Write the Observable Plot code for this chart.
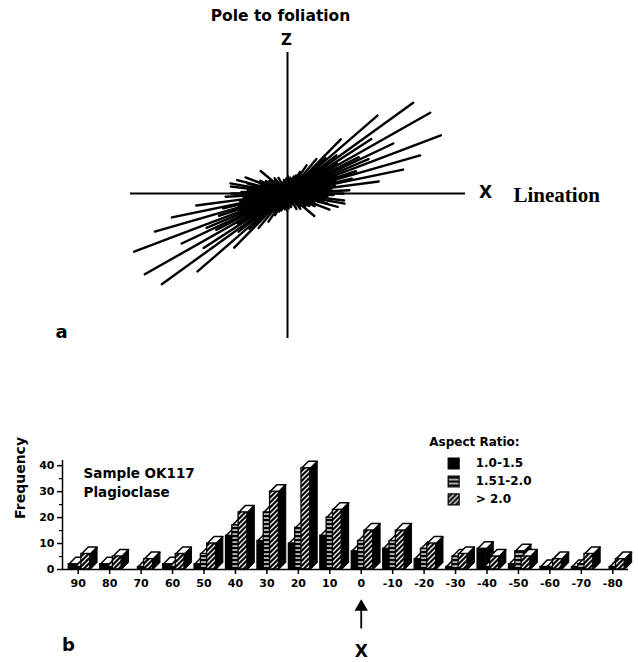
<!DOCTYPE html>
<html><head><meta charset="utf-8">
<script src="https://cdn.jsdelivr.net/npm/d3@7"></script>
<script src="https://cdn.jsdelivr.net/npm/@observablehq/plot@0.6"></script>
<style>
body{margin:0;background:#fff}
#wrap{position:relative;width:638px;height:662px;background:#fff}
#wrap svg{display:block}
</style>
</head><body>
<svg width="0" height="0" style="position:absolute">
<defs>
<pattern id="hstripe" patternUnits="userSpaceOnUse" width="6" height="4">
<rect width="6" height="4" fill="#000"/><rect x="0" y="1.4" width="6" height="1.3" fill="#fff"/>
</pattern>
<pattern id="diag" patternUnits="userSpaceOnUse" width="5" height="5">
<rect width="5" height="5" fill="#000"/>
<path d="M-1.25,1.25 l2.5,-2.5 M0,5 l5,-5 M3.75,6.25 l2.5,-2.5" stroke="#fff" stroke-width="1.3"/>
</pattern>
</defs></svg>
<div id="wrap"></div>
<script>
// ---- Panel a: grain orientations (angle from X in degrees, half-length) ----
const grainAngle = [35.8,40.9,29.5,20.8,25.3,45.5,16,11.7,7.5,33,27,38,23,18,13,3,50,56,43,31,20,9,5,0,-2,
  -7,-10,-15,-14,-40,-21,-5,-25,-3,-30,-12,-18,-8,-35,-45,
  60,70,80,88,-85,-75,-60,-50,65,75,15,25,35,45,10,2,30,50,20,40,84,-88,55,-65,12,28,-22,
  8,-4,4,18,-16,14,6,-1];
const grainHalfLength = [155,119,164,164,117,76,138,118,92,100,80,62,88,72,66,62,45,34,52,58,52,48,44,56,46,
  57,58,52,41,35,45,40,30,30,25,36,28,25,22,18,
  25,18,16,17,15,14,18,20,20,15,35,40,30,28,30,35,20,22,25,40,12,11,14,12,22,28,20,
  38,34,30,44,24,50,26,40];

// ---- Panel b: frequency by angle bin and aspect ratio ----
const angleBins = [90,80,70,60,50,40,30,20,10,0,-10,-20,-30,-40,-50,-60,-70,-80];
const freqLow  = [2,2,0,2,2,13,11,10,13,7,8,4,1,8,2,1,1,0];      // 1.0-1.5
const freqMid  = [1,1,1,1,6,17,22,16,20,11,11,8,5,1,7,1,2,1];    // 1.51-2.0
const freqHigh = [6,5,4,6,10,22,30,39,23,15,15,10,6,5,5,4,6,4];  // > 2.0
const seriesNames = ["1.0-1.5","1.51-2.0","> 2.0"];
const yTicks = [0,10,20,30,40];
const yMinorTicks = [5,15,25,35];

const wrap = document.getElementById("wrap");

// ---------- Panel a ----------
const grains = grainAngle.map((a,i)=>({a, L: grainHalfLength[i]}));
const rad = d => d.a*Math.PI/180;
const xAxisExtent = [-157, 178], zAxisExtent = [-145, 141];
const serif = "Liberation Serif";
const sans = "DejaVu Sans";
const topPlot = Plot.plot({
  width: 638, height: 400, margin: 0,
  x: {domain: [-287, 351], axis: null},
  y: {domain: [-207, 193], axis: null},
  style: {background: "white", color: "black"},
  marks: [
    Plot.ruleY([0], {x1: xAxisExtent[0], x2: xAxisExtent[1], stroke: "black", strokeWidth: 2}),
    Plot.ruleX([0], {y1: zAxisExtent[0], y2: zAxisExtent[1], stroke: "black", strokeWidth: 2}),
    Plot.link(grains, {
      x1: d => -d.L*Math.cos(rad(d)), y1: d => -d.L*Math.sin(rad(d)),
      x2: d => d.L*Math.cos(rad(d)),  y2: d => d.L*Math.sin(rad(d)),
      stroke: "black", strokeWidth: 2.4, strokeLinecap: "round"
    }),
    Plot.text(["Pole to foliation"], {x: -7, y: 177, fontFamily: sans, fontWeight: "bold", fontSize: 15.5, lineAnchor: "middle"}),
    Plot.text(["Z"], {x: -1, y: 153, fontFamily: sans, fontWeight: "bold", fontSize: 15, lineAnchor: "middle"}),
    Plot.text(["X"], {x: 198, y: 1, fontFamily: sans, fontWeight: "bold", fontSize: 17, lineAnchor: "middle"}),
    Plot.text(["Lineation"], {x: 226, y: -2, textAnchor: "start", fontFamily: serif, fontWeight: "bold", fontSize: 21, lineAnchor: "middle"}),
    Plot.text(["a"], {x: -226, y: -139, fontFamily: sans, fontWeight: "bold", fontSize: 18, lineAnchor: "middle"})
  ]
});
wrap.appendChild(topPlot);

// ---------- Panel b ----------
const barWidth = 2.8, barStep = 2.0, barStart = -3.0, depthX = 2.2, depthY = 2.7;
const seriesFreq = [freqLow, freqMid, freqHigh];
const seriesFill = ["black", "url(#hstripe)", "url(#diag)"];
const barMarks = [];
seriesFreq.forEach((vals, k) => {
  const r0 = barStart + k*barStep;
  const bars = angleBins.map((b,i)=>({b, v: vals[i], xL: b - r0, xR: b - r0 - barWidth})).filter(d => d.v > 0);
  const side = bars.flatMap(d => [[d.xR,0],[d.xR-depthX,depthY],[d.xR-depthX,d.v+depthY],[d.xR,d.v],[d.xR,0]]
    .map(([x,y]) => ({x, y, id: d.b})));
  const cap = bars.flatMap(d => [[d.xL,d.v],[d.xR,d.v],[d.xR-depthX,d.v+depthY],[d.xL-depthX,d.v+depthY],[d.xL,d.v]]
    .map(([x,y]) => ({x, y, id: d.b})));
  barMarks.push(Plot.line(side, {x: "x", y: "y", z: "id", fill: "black", stroke: "black", strokeWidth: 1}));
  barMarks.push(Plot.line(cap, {x: "x", y: "y", z: "id", fill: "white", stroke: "black", strokeWidth: 1.5}));
  barMarks.push(Plot.rect(bars, {x1: "xL", x2: "xR", y1: 0, y2: "v", fill: seriesFill[k], stroke: "black", strokeWidth: 1.3}));
});

const legendX = -29.4, legendTextX = -36.4, legendY = [40.85, 33.9, 27.0];
const bottomPlot = Plot.plot({
  width: 638, height: 262,
  marginLeft: 62, marginRight: 10, marginTop: 60, marginBottom: 93,
  x: {domain: [95, -85]},
  y: {domain: [0, 42]},
  style: {background: "white", color: "black", fontFamily: sans, fontSize: "11px", fontWeight: "bold"},
  marks: [
    Plot.axisX(angleBins, {tickSize: 5, tickPadding: 5, tickFormat: d => String(d), label: null, fontSize: 11, strokeWidth: 1.5}),
    Plot.axisY(yTicks, {tickSize: 5, tickPadding: 3, label: null, fontSize: 11, strokeWidth: 1.5}),
    Plot.axisY(yMinorTicks, {tickSize: 3, text: null, label: null, strokeWidth: 1.2}),
    Plot.ruleX([95], {y1: 0, y2: 42, stroke: "black", strokeWidth: 1.5}),
    ...barMarks,
    Plot.ruleY([0], {stroke: "black", strokeWidth: 1.6}),
    Plot.text(["Frequency"], {frameAnchor: "left", dx: -42, y: 19.5, rotate: -90, fontSize: 14, fontWeight: "bold", lineAnchor: "middle"}),
    Plot.text(["Sample OK117"], {x: 88.3, y: 37, textAnchor: "start", fontSize: 13.5, fontWeight: "bold", lineAnchor: "middle"}),
    Plot.text(["Plagioclase"], {x: 88.3, y: 29.7, textAnchor: "start", fontSize: 13.5, fontWeight: "bold", lineAnchor: "middle"}),
    Plot.text(["Aspect Ratio:"], {x: -36, y: 48.9, fontSize: 12, fontWeight: "bold", lineAnchor: "middle"}),
    ...seriesNames.map((name, i) => Plot.dot([name], {x: legendX, y: legendY[i], symbol: "square", r: 6.2, fill: seriesFill[i], stroke: "black", strokeWidth: 1.2})),
    Plot.text(seriesNames, {x: legendTextX, y: (d,i) => legendY[i], textAnchor: "start", fontSize: 12, fontWeight: "bold", lineAnchor: "middle"}),
    Plot.link([0], {x1: 0, x2: 0, y1: -22.7, y2: -15.5, stroke: "black", strokeWidth: 1.8}),
    Plot.dot([0], {x: 0, y: -14.4, symbol: "triangle", r: 4, fill: "black", stroke: "black"}),
    Plot.text(["X"], {x: 0, y: -31.6, fontSize: 17, fontWeight: "bold", lineAnchor: "middle"}),
    Plot.text(["b"], {x: 93.1, y: -29.3, fontSize: 18, fontWeight: "bold", lineAnchor: "middle"})
  ]
});
wrap.appendChild(bottomPlot);
</script>
</body></html>
